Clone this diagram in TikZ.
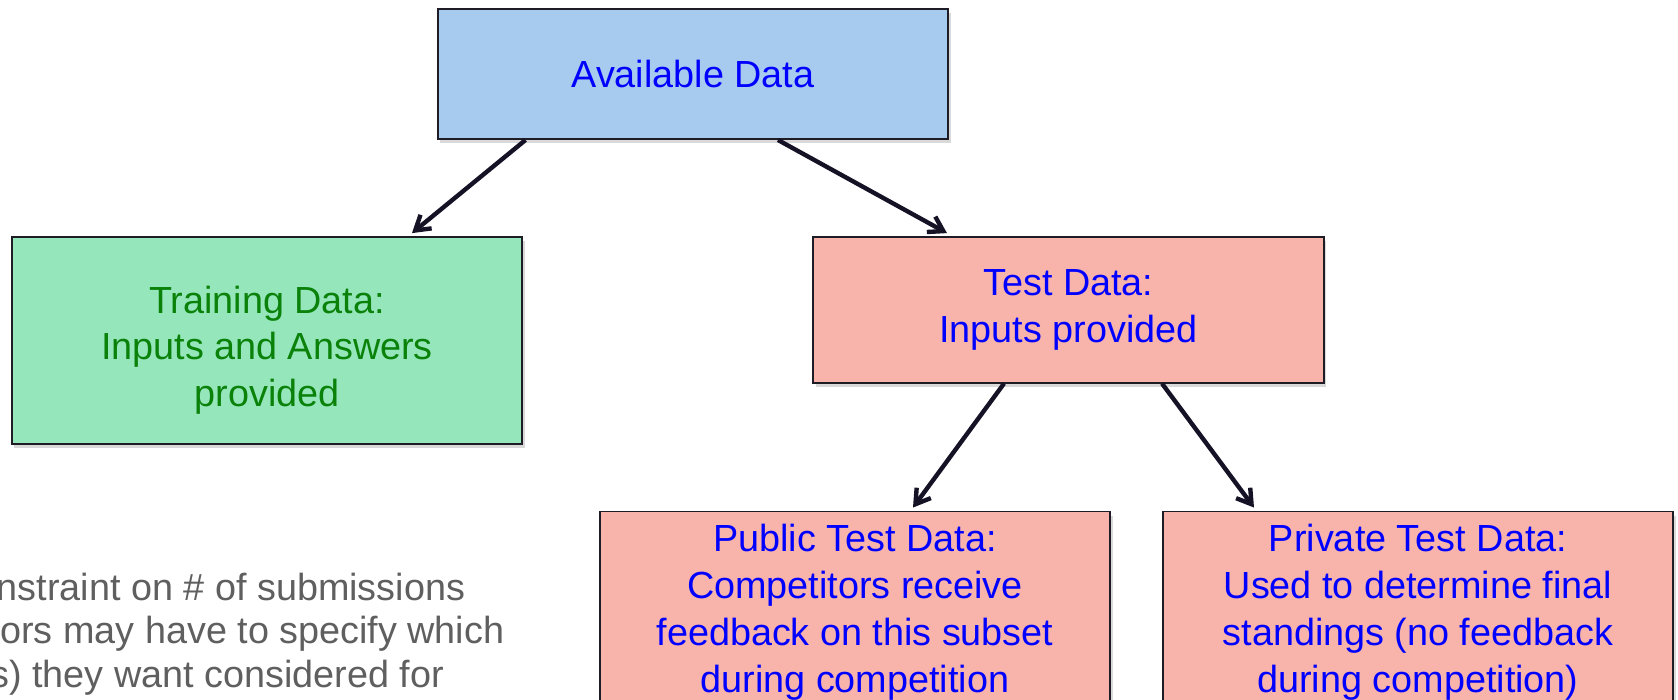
\documentclass[tikz,border=0pt]{standalone}
\usepackage{fontspec}
\setmainfont{Liberation Sans}
\usetikzlibrary{arrows.meta,calc,shadows}

\definecolor{availblue}{RGB}{166,203,238}
\definecolor{traingreen}{RGB}{150,230,187}
\definecolor{testsalmon}{RGB}{248,180,170}
\definecolor{boxline}{RGB}{30,28,36}
\definecolor{arrowink}{RGB}{22,18,38}
\definecolor{trainink}{RGB}{10,130,10}
\definecolor{noteink}{RGB}{95,95,95}

% full line height, so the text sits in the box like a slide text box
\newcommand{\boxstrut}{\rule[-0.21em]{0pt}{1.12em}}

\begin{document}
\begin{tikzpicture}[
  x=0.02cm, y=-0.02cm,
  >={Straight Barb[length=8pt,width=10pt]},
  databox/.style={draw=boxline, line width=1.1pt, minimum width=10.22cm,
    align=center, text=blue, font=\fontsize{21.5}{26.7}\selectfont,
    execute at begin node=\boxstrut, execute at end node=\boxstrut,
    drop shadow={shadow xshift=0.05cm, shadow yshift=-0.08cm, opacity=0.3}},
  link/.style={->, line width=2.5pt, draw=arrowink},
  note/.style={anchor=base west, inner sep=0pt, text=noteink,
    font=\fontsize{21.5}{25.8}\selectfont}
]
  \useasboundingbox (0,0) rectangle (1678,700);

  % Top level and the two splits
  \node[databox, fill=availblue, minimum height=2.61cm] (avail) at (693,73.8) {Available Data};
  \node[databox, fill=traingreen, minimum height=4.13cm, text=trainink] (train) at (267,340.3)
    {\rule{0pt}{1.25em}Training Data:\\Inputs and Answers\\provided};
  \node[databox, fill=testsalmon, minimum height=2.91cm] (test) at (1068.5,309.8)
    {Test Data:\\Inputs provided};

  % Test data is split again
  \node[databox, fill=testsalmon, minimum height=4.02cm] (public) at (855,612)
    {Public Test Data:\\Competitors receive\\feedback on this subset\\during competition};
  \node[databox, fill=testsalmon, minimum height=4.02cm] (private) at (1418,612)
    {Private Test Data:\\Used to determine final\\standings (no feedback\\during competition)};

  \draw[link] ($(avail.south)+(-167.5,0)$) -- ($(train.north)+(145,-3)$);
  \draw[link] ($(avail.south)+(85,0)$) -- ($(test.north)+(-121.5,-3)$);
  \draw[link] ($(test.south)+(-64.5,0)$) -- ($(public.north)+(58,-3)$);
  \draw[link] ($(test.south)+(93.5,0)$) -- ($(private.north)+(-164,-3)$);

  % Side remark, cut at the left edge
  \node[note] (note1) at (-3.5,600) {nstraint on \# of submissions};
  \node[note] (note2) at (0,643) {ors may have to specify which};
  \node[note] (note3) at (-10,687) {s) they want considered for};
\end{tikzpicture}
\end{document}
